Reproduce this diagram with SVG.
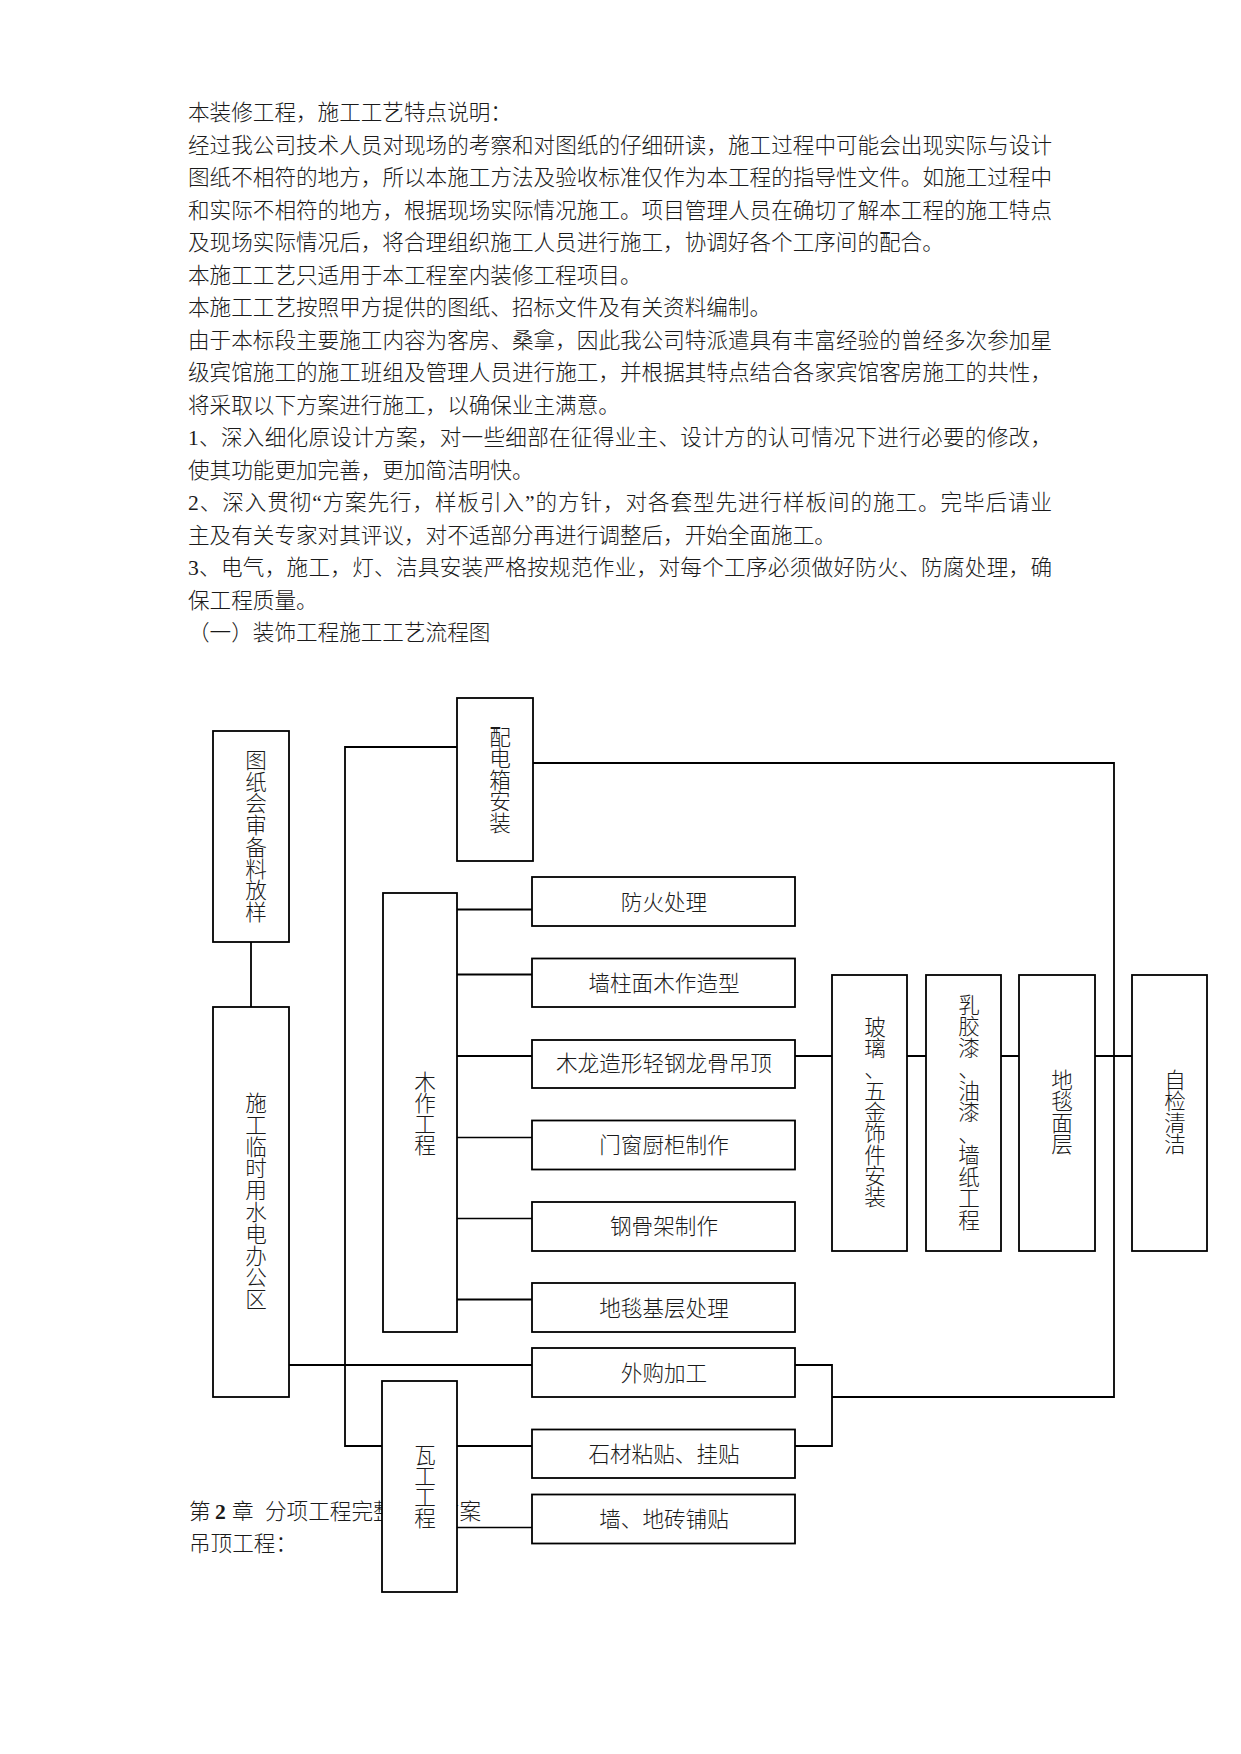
<svg xmlns="http://www.w3.org/2000/svg" width="1241" height="1754" viewBox="0 0 1241 1754">
<style>
text{font-family:"Liberation Serif","Noto Sans CJK SC",serif;font-size:21.6px;fill:#1a1a1a;font-weight:300;dominant-baseline:central}
.p{text-anchor:start}
.c{text-anchor:middle}
.box{fill:#fff;stroke:#000;stroke-width:1.8}
.ln{fill:none;stroke:#000;stroke-width:1.8}
.thin{fill:none;stroke:#000;stroke-width:1.3}
</style>
<rect x="0" y="0" width="1241" height="1754" fill="#fff"/>
<g id="intro">
<text class="p" x="188" y="113">本装修工程，施工工艺特点说明：</text>
<text class="p" x="188" y="145.5" textLength="864" lengthAdjust="spacing">经过我公司技术人员对现场的考察和对图纸的仔细研读，施工过程中可能会出现实际与设计</text>
<text class="p" x="188" y="178" textLength="864" lengthAdjust="spacing">图纸不相符的地方，所以本施工方法及验收标准仅作为本工程的指导性文件。如施工过程中</text>
<text class="p" x="188" y="210.5" textLength="864" lengthAdjust="spacing">和实际不相符的地方，根据现场实际情况施工。项目管理人员在确切了解本工程的施工特点</text>
<text class="p" x="188" y="243">及现场实际情况后，将合理组织施工人员进行施工，协调好各个工序间的配合。</text>
<text class="p" x="188" y="275.5">本施工工艺只适用于本工程室内装修工程项目。</text>
<text class="p" x="188" y="308">本施工工艺按照甲方提供的图纸、招标文件及有关资料编制。</text>
<text class="p" x="188" y="340.5" textLength="864" lengthAdjust="spacing">由于本标段主要施工内容为客房、桑拿，因此我公司特派遣具有丰富经验的曾经多次参加星</text>
<text class="p" x="188" y="373" textLength="864" lengthAdjust="spacing">级宾馆施工的施工班组及管理人员进行施工，并根据其特点结合各家宾馆客房施工的共性，</text>
<text class="p" x="188" y="405.5">将采取以下方案进行施工，以确保业主满意。</text>
<text class="p" x="188" y="438" textLength="864" lengthAdjust="spacing">1、深入细化原设计方案，对一些细部在征得业主、设计方的认可情况下进行必要的修改，</text>
<text class="p" x="188" y="470.5">使其功能更加完善，更加简洁明快。</text>
<text class="p" x="188" y="503" textLength="864" lengthAdjust="spacing">2、深入贯彻“方案先行，样板引入”的方针，对各套型先进行样板间的施工。完毕后请业</text>
<text class="p" x="188" y="535.5">主及有关专家对其评议，对不适部分再进行调整后，开始全面施工。</text>
<text class="p" x="188" y="568" textLength="864" lengthAdjust="spacing">3、电气，施工，灯、洁具安装严格按规范作业，对每个工序必须做好防火、防腐处理，确</text>
<text class="p" x="188" y="600.5">保工程质量。</text>
<text class="p" x="188" y="633">（一）装饰工程施工工艺流程图</text>
</g>
<g id="footer-text">
<text class="p" y="1512"><tspan x="189">第</tspan><tspan x="215" font-weight="bold">2</tspan><tspan x="232">章</tspan><tspan x="265">分项工程完整</tspan></text>
<text class="p" x="438" y="1512">方案</text>
<text class="p" x="189" y="1543.5">吊顶工程：</text>
</g>
<g id="connectors">
<path class="ln" d="M251 942 V1007"/>
<path class="ln" d="M457 747 H345 V1446 H532"/>
<path class="ln" d="M533 763 H1114 V1397 H832"/>
<path class="ln" d="M457 909.5 H532"/>
<path class="ln" d="M457 974.5 H532"/>
<path class="ln" d="M457 1056 H532"/>
<path class="thin" d="M457 1137.5 H532"/>
<path class="thin" d="M457 1218.5 H532"/>
<path class="ln" d="M457 1299.5 H532"/>
<path class="ln" d="M289 1365 H532"/>
<path class="ln" d="M795 1365 H832 V1446 H795"/>
<path class="thin" d="M457 1527.5 H532"/>
<path class="ln" d="M795 1056 H832 M907 1056 H926 M1001 1056 H1019 M1095 1056 H1132"/>
</g>
<g id="node-tuzhi">
<rect class="box" x="213" y="731" width="76" height="211"/>
<text class="c"><tspan x="256" y="761">图</tspan><tspan x="256" y="782.7">纸</tspan><tspan x="256" y="804.4">会</tspan><tspan x="256" y="826.1">审</tspan><tspan x="256" y="847.8">备</tspan><tspan x="256" y="869.5">料</tspan><tspan x="256" y="891.2">放</tspan><tspan x="256" y="912.9">样</tspan></text>
</g>
<g id="node-shigong">
<rect class="box" x="213" y="1007" width="76" height="390"/>
<text class="c"><tspan x="256" y="1104">施</tspan><tspan x="256" y="1125.8">工</tspan><tspan x="256" y="1147.6">临</tspan><tspan x="256" y="1169.4">时</tspan><tspan x="256" y="1191.2">用</tspan><tspan x="256" y="1213">水</tspan><tspan x="256" y="1234.8">电</tspan><tspan x="256" y="1256.6">办</tspan><tspan x="256" y="1278.4">公</tspan><tspan x="256" y="1300.2">区</tspan></text>
</g>
<g id="node-peidian">
<rect class="box" x="457" y="698" width="76" height="163"/>
<text class="c"><tspan x="500" y="737.5">配</tspan><tspan x="500" y="759.1">电</tspan><tspan x="500" y="780.7">箱</tspan><tspan x="500" y="802.3">安</tspan><tspan x="500" y="823.9">装</tspan></text>
</g>
<g id="node-muzuo">
<rect class="box" x="383" y="893" width="74" height="439"/>
<text class="c"><tspan x="425" y="1083">木</tspan><tspan x="425" y="1104">作</tspan><tspan x="425" y="1125">工</tspan><tspan x="425" y="1146">程</tspan></text>
</g>
<g id="node-wagong">
<rect class="box" x="382" y="1381" width="75" height="211"/>
<text class="c"><tspan x="425" y="1455.5">瓦</tspan><tspan x="425" y="1476.5">工</tspan><tspan x="425" y="1497.5">工</tspan><tspan x="425" y="1518.5">程</tspan></text>
</g>
<g id="node-fanghuo">
<rect class="box" x="532" y="877" width="263" height="49"/>
<text class="c" x="664" y="903">防火处理</text>
</g>
<g id="node-qiangzhu">
<rect class="box" x="532" y="958.5" width="263" height="48.5"/>
<text class="c" x="664" y="984">墙柱面木作造型</text>
</g>
<g id="node-mulong">
<rect class="box" x="532" y="1040" width="263" height="48"/>
<text class="c" x="664" y="1064">木龙造形轻钢龙骨吊顶</text>
</g>
<g id="node-menchuang">
<rect class="box" x="532" y="1120.5" width="263" height="49"/>
<text class="c" x="664" y="1146">门窗厨柜制作</text>
</g>
<g id="node-gangguji">
<rect class="box" x="532" y="1202" width="263" height="49"/>
<text class="c" x="664" y="1227">钢骨架制作</text>
</g>
<g id="node-ditanjiceng">
<rect class="box" x="532" y="1283" width="263" height="49"/>
<text class="c" x="664" y="1309">地毯基层处理</text>
</g>
<g id="node-waigou">
<rect class="box" x="532" y="1348" width="263" height="49"/>
<text class="c" x="664" y="1373.5">外购加工</text>
</g>
<g id="node-shicai">
<rect class="box" x="532" y="1429.5" width="263" height="48.5"/>
<text class="c" x="664" y="1455">石材粘贴、挂贴</text>
</g>
<g id="node-qiangdizhuan">
<rect class="box" x="532" y="1494.5" width="263" height="49"/>
<text class="c" x="664" y="1520">墙、地砖铺贴</text>
</g>
<g id="node-boli">
<rect class="box" x="832" y="975" width="75" height="276"/>
<text class="c"><tspan x="875" y="1027.7">玻</tspan><tspan x="875" y="1049">璃</tspan><tspan x="875" y="1070.3">、</tspan><tspan x="875" y="1091.6">五</tspan><tspan x="875" y="1112.9">金</tspan><tspan x="875" y="1134.2">饰</tspan><tspan x="875" y="1155.5">件</tspan><tspan x="875" y="1176.8">安</tspan><tspan x="875" y="1198.1">装</tspan></text>
</g>
<g id="node-rujiaoqi">
<rect class="box" x="926" y="975" width="75" height="276"/>
<text class="c"><tspan x="969" y="1005.8">乳</tspan><tspan x="969" y="1027.3">胶</tspan><tspan x="969" y="1048.8">漆</tspan><tspan x="969" y="1070.3">、</tspan><tspan x="969" y="1091.8">油</tspan><tspan x="969" y="1113.3">漆</tspan><tspan x="969" y="1134.8">、</tspan><tspan x="969" y="1156.3">墙</tspan><tspan x="969" y="1177.8">纸</tspan><tspan x="969" y="1199.3">工</tspan><tspan x="969" y="1220.8">程</tspan></text>
</g>
<g id="node-ditanmianceng">
<rect class="box" x="1019" y="975" width="76" height="276"/>
<text class="c"><tspan x="1062" y="1080.8">地</tspan><tspan x="1062" y="1102.3">毯</tspan><tspan x="1062" y="1123.8">面</tspan><tspan x="1062" y="1145.3">层</tspan></text>
</g>
<g id="node-zijian">
<rect class="box" x="1132" y="975" width="75" height="276"/>
<text class="c"><tspan x="1175" y="1080.8">自</tspan><tspan x="1175" y="1102.3">检</tspan><tspan x="1175" y="1123.8">清</tspan><tspan x="1175" y="1145.3">洁</tspan></text>
</g>
</svg>
